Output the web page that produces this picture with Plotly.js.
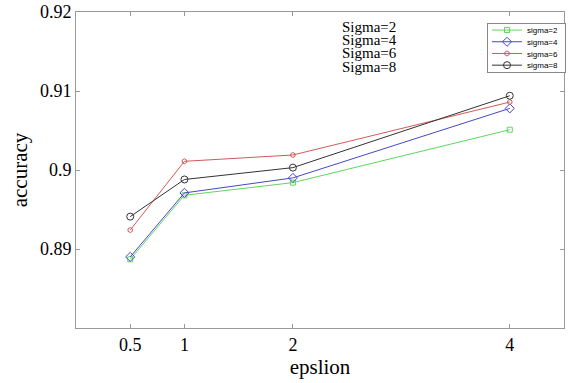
<!DOCTYPE html>
<html><head><meta charset="utf-8">
<script src="https://cdn.plot.ly/plotly-3.0.1.min.js"></script>
<style>html,body{margin:0;padding:0;background:#fff}#chart{width:569px;height:383px}</style>
</head><body><div id="chart"></div>
<script>
const epsilon = [0.5, 1, 2, 4];
const sigma2 = [0.8887, 0.8968, 0.8984, 0.9051];
const sigma4 = [0.8890, 0.8971, 0.8990, 0.9078];
const sigma6 = [0.8924, 0.9011, 0.9019, 0.9086];
const sigma8 = [0.8941, 0.8988, 0.9003, 0.9094];
const seriesNames = ['sigma=2', 'sigma=4', 'sigma=6', 'sigma=8'];
const noteLines = ['Sigma=2', 'Sigma=4', 'Sigma=6', 'Sigma=8'];
const xTicks = [0.5, 1, 2, 4];
const xTickText = ['0.5', '1', '2', '4'];
const yTicks = [0.89, 0.9, 0.91, 0.92];
const yTickText = ['0.89', '0.9', '0.91', '0.92'];

const styles = [
  {color: '#5fd65f', symbol: 'square-open', size: 5},
  {color: '#4646c8', symbol: 'diamond-open', size: 7},
  {color: '#d05a5a', symbol: 'hexagon-open', size: 5},
  {color: '#333333', symbol: 'circle-open', size: 7}
];
const ys = [sigma2, sigma4, sigma6, sigma8];
const data = ys.map((y, i) => ({
  x: epsilon, y: y, name: seriesNames[i], type: 'scatter', mode: 'lines+markers',
  line: {color: styles[i].color, width: 1},
  marker: {symbol: styles[i].symbol, size: styles[i].size, color: styles[i].color, line: {color: styles[i].color, width: 1}}
}));

const serif = 'Liberation Serif, Times New Roman, serif';
const noteY = [0.9535, 0.911, 0.869, 0.827];
const annotations = noteLines.map((t, i) => ({
  text: t, xref: 'paper', yref: 'paper', x: 0.543, y: noteY[i],
  xanchor: 'left', yanchor: 'middle', showarrow: false, borderpad: 0,
  font: {family: serif, size: 15, color: '#000'}
}));

const axisCommon = {
  showgrid: false, zeroline: false, showline: true, linecolor: '#999', linewidth: 1,
  mirror: 'ticks', ticks: 'inside', ticklen: 4, tickcolor: '#999', tickwidth: 1,
  tickfont: {family: serif, size: 18, color: '#000'}
};

const layout = {
  width: 569, height: 383,
  margin: {l: 76, r: 4, t: 12, b: 55},
  paper_bgcolor: '#fff', plot_bgcolor: '#fff',
  showlegend: true,
  legend: {
    x: 0.8405, y: 0.965, xanchor: 'left', yanchor: 'top',
    bordercolor: '#888', borderwidth: 1, bgcolor: '#fff',
    font: {family: 'Liberation Sans, Arial, sans-serif', size: 8, color: '#000'},
    itemwidth: 30, tracegroupgap: 0
  },
  xaxis: Object.assign({}, axisCommon, {
    range: [0, 4.5], tickvals: xTicks, ticktext: xTickText,
    title: {text: 'epslion', font: {family: serif, size: 21, color: '#000'}, standoff: 1}
  }),
  yaxis: Object.assign({}, axisCommon, {
    range: [0.88, 0.92], tickvals: yTicks, ticktext: yTickText,
    title: {text: 'accuracy', font: {family: serif, size: 21, color: '#000'}, standoff: 6}
  }),
  annotations: annotations
};
const gd = document.getElementById('chart');
Plotly.newPlot(gd, data, layout, {displayModeBar: false, staticPlot: true}).then(() => {
  // compact the legend rows to match the reference's tight legend box
  const items = gd.querySelectorAll('g.legend g.traces');
  const step = 11.7, first = 7;
  items.forEach((el, i) => el.setAttribute('transform', 'translate(0,' + (first + i * step) + ')'));
  const bg = gd.querySelector('g.legend rect.bg');
  if (bg) bg.setAttribute('height', String(Math.round(first * 2 + step * (items.length - 1))));
});
</script></body></html>
